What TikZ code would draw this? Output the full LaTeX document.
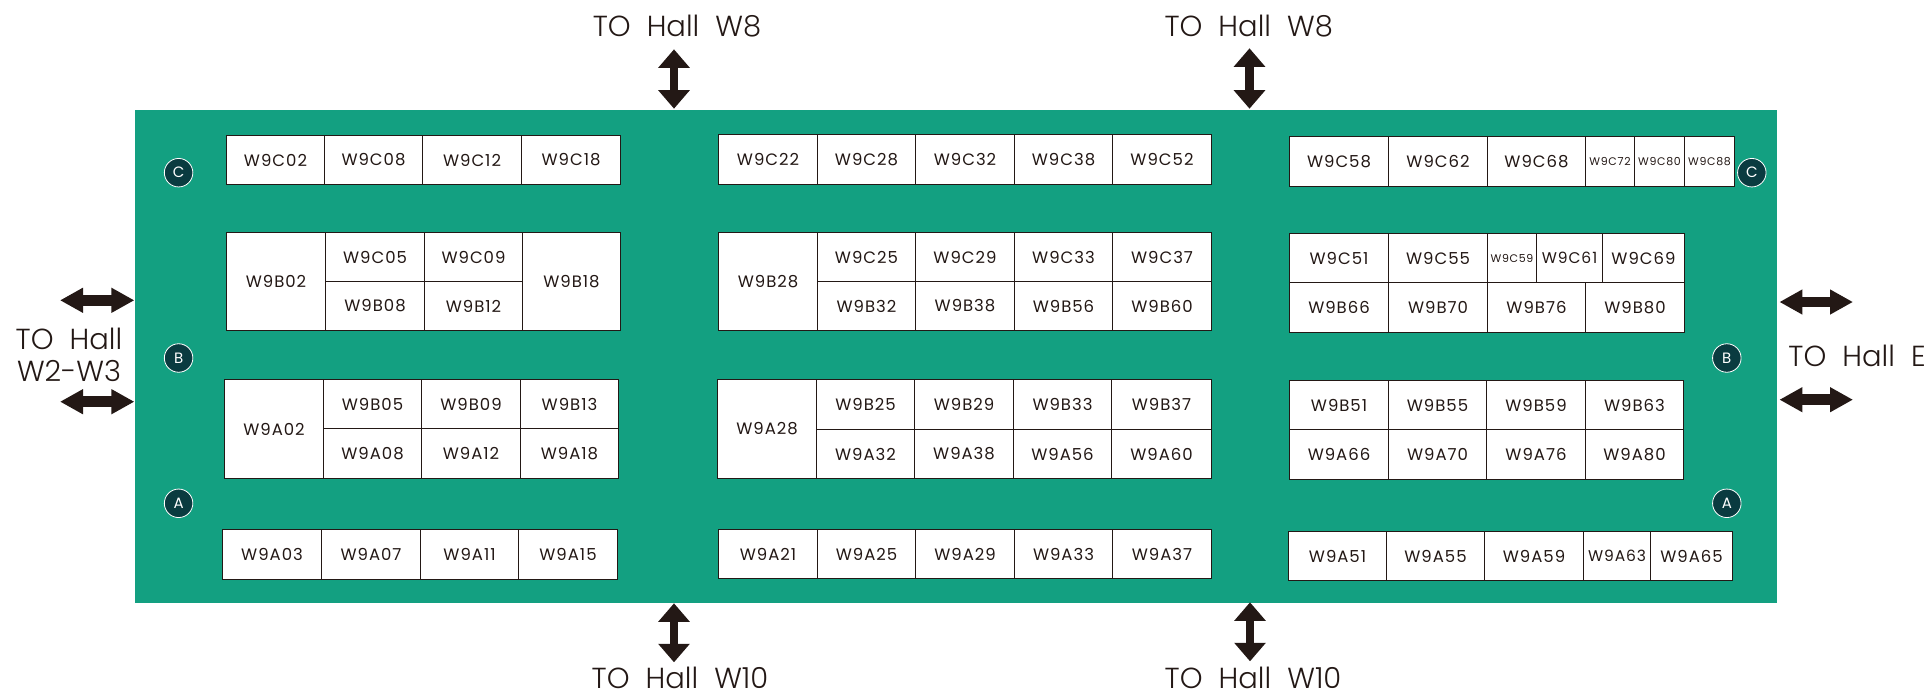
\documentclass[tikz,border=0pt]{standalone}
\usepackage{fontspec}
\setmainfont{Poppins}[UprightFont=* Light,BoldFont=* Regular]
\newfontfamily\boothfont{Poppins}[LetterSpace=6]
\newfontfamily\circfont{Poppins}
\usetikzlibrary{arrows.meta}
\definecolor{hallgreen}{HTML}{13A081}
\definecolor{inkdark}{HTML}{231815}
\definecolor{aislecirc}{HTML}{0A3B40}
\tikzset{
  booth/.style={draw=inkdark,fill=white,line width=1.4pt,inner sep=0pt,outer sep=0pt,text=inkdark,font=\boothfont\fontsize{16.5}{18}\selectfont},
  boothsmall/.style={booth,font=\boothfont\fontsize{11}{12}\selectfont},
  boothmid/.style={booth,font=\boothfont\fontsize{15.5}{18}\selectfont},
  aisle/.style={circle,draw=white,fill=aislecirc,line width=0.8pt,minimum size=28.5pt,inner sep=0pt,text=white,font=\circfont\fontsize{15}{15}\selectfont},
  hallto/.style={inner sep=0pt,text=inkdark,align=center,font=\fontsize{29}{31}\selectfont},
  vway/.style={draw=inkdark,line width=8.3pt,{Triangle[length=18.5pt,width=30.5pt]}-{Triangle[length=18.5pt,width=30.5pt]}},
  hway/.style={draw=inkdark,line width=10.6pt,{Triangle[length=23pt,width=23.5pt]}-{Triangle[length=23pt,width=23.5pt]}},
}
% \booth[style]{x1}{y1}{x2}{y2}{label}; edges are snapped to pixel centres
\newcommand\booth[6][booth]{%
  \pgfmathsetmacro\sxa{floor(#2)+.5}\pgfmathsetmacro\sya{floor(#3)+.5}%
  \pgfmathsetmacro\sxb{floor(#4)+.5}\pgfmathsetmacro\syb{floor(#5)+.5}%
  \pgfmathsetmacro\bw{\sxb-\sxa}\pgfmathsetmacro\bh{\syb-\sya}%
  \pgfmathsetmacro\bx{(\sxa+\sxb)/2}\pgfmathsetmacro\by{(\sya+\syb)/2}%
  \node[#1,minimum width=\bw pt,minimum height=\bh pt] (#6) at (\bx,\by) {\raisebox{-1pt}{#6}};}
\newcommand\boothrow[3]{\foreach \xa/\xb/\lab in {#3}{\booth{\xa}{#1}{\xb}{#2}{\lab}}}
\begin{document}
\begin{tikzpicture}[x=1pt,y=-1pt]
\useasboundingbox (0,0) rectangle (1929,694);
\fill[hallgreen] (135,110) rectangle (1777,603);
% left block
\boothrow{135.7}{184.7}{226/324.6/W9C02,324.6/422.8/W9C08,422.8/521.4/W9C12,521.4/620.5/W9C18}
\booth{226.8}{232}{325.4}{330.3}{W9B02}
\boothrow{232}{281.3}{325.4/424/W9C05,424/522.3/W9C09}
\boothrow{281.3}{330.7}{325.4/424/W9B08,424/522.3/W9B12}
\booth{522.3}{232}{620.5}{330.7}{W9B18}
\booth{224.6}{379.3}{323.2}{478}{W9A02}
\boothrow{379.3}{428.7}{323.2/421.9/W9B05,421.9/520/W9B09,520/618.7/W9B13}
\boothrow{428.7}{478}{323.2/421.9/W9A08,421.9/520/W9A12,520/618.7/W9A18}
\boothrow{529.7}{579}{222.8/321/W9A03,321/420/W9A07,420/518.3/W9A11,518.3/617/W9A15}
% middle block
\boothrow{134.7}{184}{718.4/817/W9C22,817/915.3/W9C28,915.3/1014/W9C32,1014/1112.6/W9C38,1112.6/1211.3/W9C52}
\booth{718.6}{232}{817.2}{330.7}{W9B28}
\boothrow{232}{281.3}{817.2/915.6/W9C25,915.6/1014/W9C29,1014/1112.8/W9C33,1112.8/1211.5/W9C37}
\boothrow{281.3}{330.7}{817.2/915.6/W9B32,915.6/1014/W9B38,1014/1112.8/W9B56,1112.8/1211.5/W9B60}
\booth{717.5}{379.7}{816.2}{478.7}{W9A28}
\boothrow{379.7}{429}{816.2/914.5/W9B25,914.5/1013/W9B29,1013/1111.8/W9B33,1111.8/1211/W9B37}
\boothrow{429}{478.7}{816.2/914.5/W9A32,914.5/1013/W9A38,1013/1111.8/W9A56,1111.8/1211/W9A60}
\boothrow{529.3}{578.7}{718.4/817/W9A21,817/915.3/W9A25,915.3/1014/W9A29,1014/1112.6/W9A33,1112.6/1211.3/W9A37}
% right block
\boothrow{136.7}{186}{1289.7/1388.8/W9C58,1388.8/1487/W9C62,1487/1585.7/W9C68}
\booth[boothsmall]{1585.7}{136.7}{1634.8}{186}{W9C72}
\booth[boothsmall]{1634.8}{136.7}{1684.8}{186}{W9C80}
\booth[boothsmall]{1684.8}{136.7}{1734.8}{186}{W9C88}
\boothrow{233}{282.7}{1289.7/1388.8/W9C51,1388.8/1487/W9C55}
\booth[boothsmall]{1487}{233}{1536.6}{282.7}{W9C59}
\booth[boothmid]{1536.6}{233}{1602.2}{282.7}{W9C61}
\booth{1602.2}{233}{1684.4}{282.7}{W9C69}
\boothrow{282.7}{332}{1289.7/1388.8/W9B66,1388.8/1487/W9B70,1487/1585.7/W9B76,1585.7/1684.4/W9B80}
\boothrow{380}{429.7}{1289.3/1388/W9B51,1388/1486.6/W9B55,1486.6/1585.3/W9B59,1585.3/1683.9/W9B63}
\boothrow{429.7}{479}{1289.3/1388/W9A66,1388/1486.6/W9A70,1486.6/1585.3/W9A76,1585.3/1683.9/W9A80}
\boothrow{531}{580.3}{1288/1386/W9A51,1386/1484.8/W9A55,1484.8/1583.9/W9A59}
\booth[boothmid]{1583.9}{531}{1650}{580.3}{W9A63}
\booth{1650}{531}{1732}{580.3}{W9A65}
% aisle markers
\node[aisle] (cl) at (178.6,172.7) {C};
\node[aisle] (bl) at (178.6,358) {B};
\node[aisle] (al) at (178.6,503.3) {A};
\node[aisle] (cr) at (1751.8,172.7) {C};
\node[aisle] (br) at (1726.8,358) {B};
\node[aisle] (ar) at (1726.8,503.3) {A};
% hall labels
\node[hallto] (t1) at (677,26) {TO\hspace{.28em} Hall\hspace{.28em} W8};
\node[hallto] (t2) at (1248.7,26) {TO\hspace{.28em} Hall\hspace{.28em} W8};
\node[hallto] (b1) at (680,677.5) {TO\hspace{.28em} Hall\hspace{.28em} W10};
\node[hallto] (b2) at (1253,677.5) {TO\hspace{.28em} Hall\hspace{.28em} W10};
\node[hallto] (l1) at (69,339) {TO\hspace{.28em} Hall};
\node[hallto] (l2) at (69,371) {W2-W3};
\node[hallto] (r1) at (1857,356) {TO\hspace{.28em} Hall\hspace{.28em} E};
% way arrows
\coordinate (v1a) at (674,49.3); \coordinate (v1b) at (674,108.7);
\coordinate (v2a) at (1249.5,48.3); \coordinate (v2b) at (1249.5,108.7);
\coordinate (v3a) at (674,603.3); \coordinate (v3b) at (674,662.3);
\coordinate (v4a) at (1250,602.3); \coordinate (v4b) at (1250,661.3);
\coordinate (h1a) at (60,300.3); \coordinate (h1b) at (134.4,300.3);
\coordinate (h2a) at (60,401.7); \coordinate (h2b) at (134.4,401.7);
\coordinate (h3a) at (1779.4,302); \coordinate (h3b) at (1853,302);
\coordinate (h4a) at (1779.4,399.7); \coordinate (h4b) at (1853,399.7);
\draw[vway] (v1a) -- (v1b);
\draw[vway] (v2a) -- (v2b);
\draw[vway] (v3a) -- (v3b);
\draw[vway] (v4a) -- (v4b);
\draw[hway] (h1a) -- (h1b);
\draw[hway] (h2a) -- (h2b);
\draw[hway] (h3a) -- (h3b);
\draw[hway] (h4a) -- (h4b);
\end{tikzpicture}
\end{document}
